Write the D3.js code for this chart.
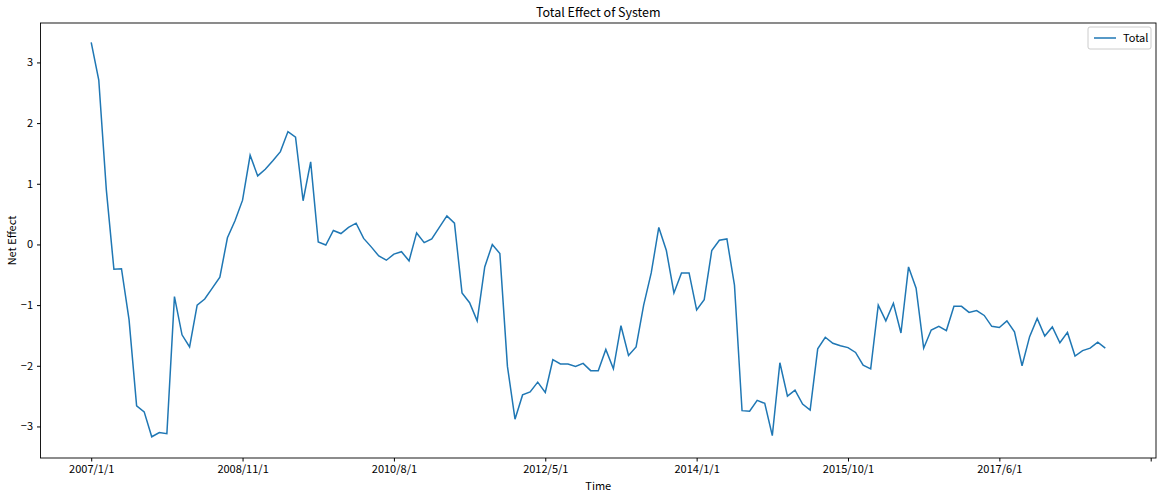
<!DOCTYPE html>
<html><head><meta charset="utf-8">
<script src="https://cdn.jsdelivr.net/npm/d3@7"></script>
<style>body{margin:0;background:#fff}text{font-family:"Noto Sans CJK SC","Noto Sans",sans-serif;fill:#000}</style>
</head><body><svg id="c" width="1163" height="500"></svg>
<script>
const values=[3.33,2.71,0.9,-0.41,-0.40,-1.24,-2.66,-2.76,-3.17,-3.10,-3.12,-0.86,-1.49,-1.69,-1.00,-0.90,-0.72,-0.54,0.11,0.39,
0.73,1.47,1.13,1.24,1.38,1.53,1.86,1.77,0.72,1.36,0.04,-0.01,0.23,0.18,0.28,0.35,0.10,-0.04,-0.19,-0.26,
-0.16,-0.12,-0.27,0.19,0.03,0.09,0.28,0.47,0.35,-0.80,-0.96,-1.26,-0.37,0.00,-0.15,-2.01,-2.88,-2.48,-2.43,-2.27,
-2.44,-1.90,-1.97,-1.97,-2.01,-1.96,-2.08,-2.08,-1.73,-2.05,-1.34,-1.83,-1.69,-1.00,-0.47,0.28,-0.10,-0.80,-0.47,-0.47,
-1.08,-0.91,-0.10,0.07,0.09,-0.67,-2.74,-2.75,-2.57,-2.62,-3.15,-1.95,-2.50,-2.40,-2.63,-2.73,-1.72,-1.53,-1.63,-1.67,
-1.70,-1.78,-1.99,-2.05,-1.00,-1.26,-0.97,-1.46,-0.37,-0.72,-1.71,-1.41,-1.35,-1.42,-1.02,-1.02,-1.12,-1.09,-1.17,-1.35,
-1.37,-1.26,-1.44,-2.00,-1.52,-1.22,-1.51,-1.36,-1.62,-1.45,-1.84,-1.75,-1.71,-1.61,-1.71];
const tickIdx=[0,20,40,60,80,100,120,140];
const tickLabels=["2007/1/1","2008/11/1","2010/8/1","2012/5/1","2014/1/1","2015/10/1","2017/6/1",""];
const yTicks=[-3,-2,-1,0,1,2,3];
const L=40.5,R=1156,T=23,B=458;
const svg=d3.select("#c");
const N=values.length-1;
const x=d3.scaleLinear().domain([-0.05*N,N*1.05]).range([L,R]);
const y=d3.scaleLinear().domain([-3.52,3.65]).range([B,T]);
const xa=svg.append("g").attr("transform",`translate(0,${B})`).call(d3.axisBottom(x).tickValues(tickIdx).tickFormat((d,i)=>tickLabels[i]).tickSize(3.5).tickPadding(4));
const ya=svg.append("g").attr("transform",`translate(${L},0)`).call(d3.axisLeft(y).tickValues(yTicks).tickSize(3.5).tickPadding(4));
[xa,ya].forEach(a=>{a.select(".domain").remove();a.selectAll("text").style("font-size","11px");a.selectAll("line").attr("stroke","#000");});
svg.append("rect").attr("x",L).attr("y",T).attr("width",R-L).attr("height",B-T).attr("fill","none").attr("stroke","#000").attr("stroke-width",0.9);
svg.append("path").datum(values).attr("fill","none").attr("stroke","#1f77b4").attr("stroke-width",1.5)
 .attr("d",d3.line().x((d,i)=>x(i)).y(d=>y(d)));
svg.append("text").attr("x",(L+R)/2).attr("y",17).attr("text-anchor","middle").style("font-size","12.5px").text("Total Effect of System");
svg.append("text").attr("x",(L+R)/2).attr("y",490).attr("text-anchor","middle").style("font-size","11px").text("Time");
svg.append("text").attr("transform",`translate(16,${(T+B)/2}) rotate(-90)`).attr("text-anchor","middle").style("font-size","11px").text("Net Effect");
const lg=svg.append("g");
lg.append("rect").attr("x",1088).attr("y",27).attr("width",63).attr("height",22).attr("rx",2).attr("fill","#fff").attr("stroke","#ccc");
lg.append("line").attr("x1",1094).attr("x2",1116).attr("y1",38).attr("y2",38).attr("stroke","#1f77b4").attr("stroke-width",1.5);
lg.append("text").attr("x",1123).attr("y",42).style("font-size","11px").text("Total");
</script></body></html>
